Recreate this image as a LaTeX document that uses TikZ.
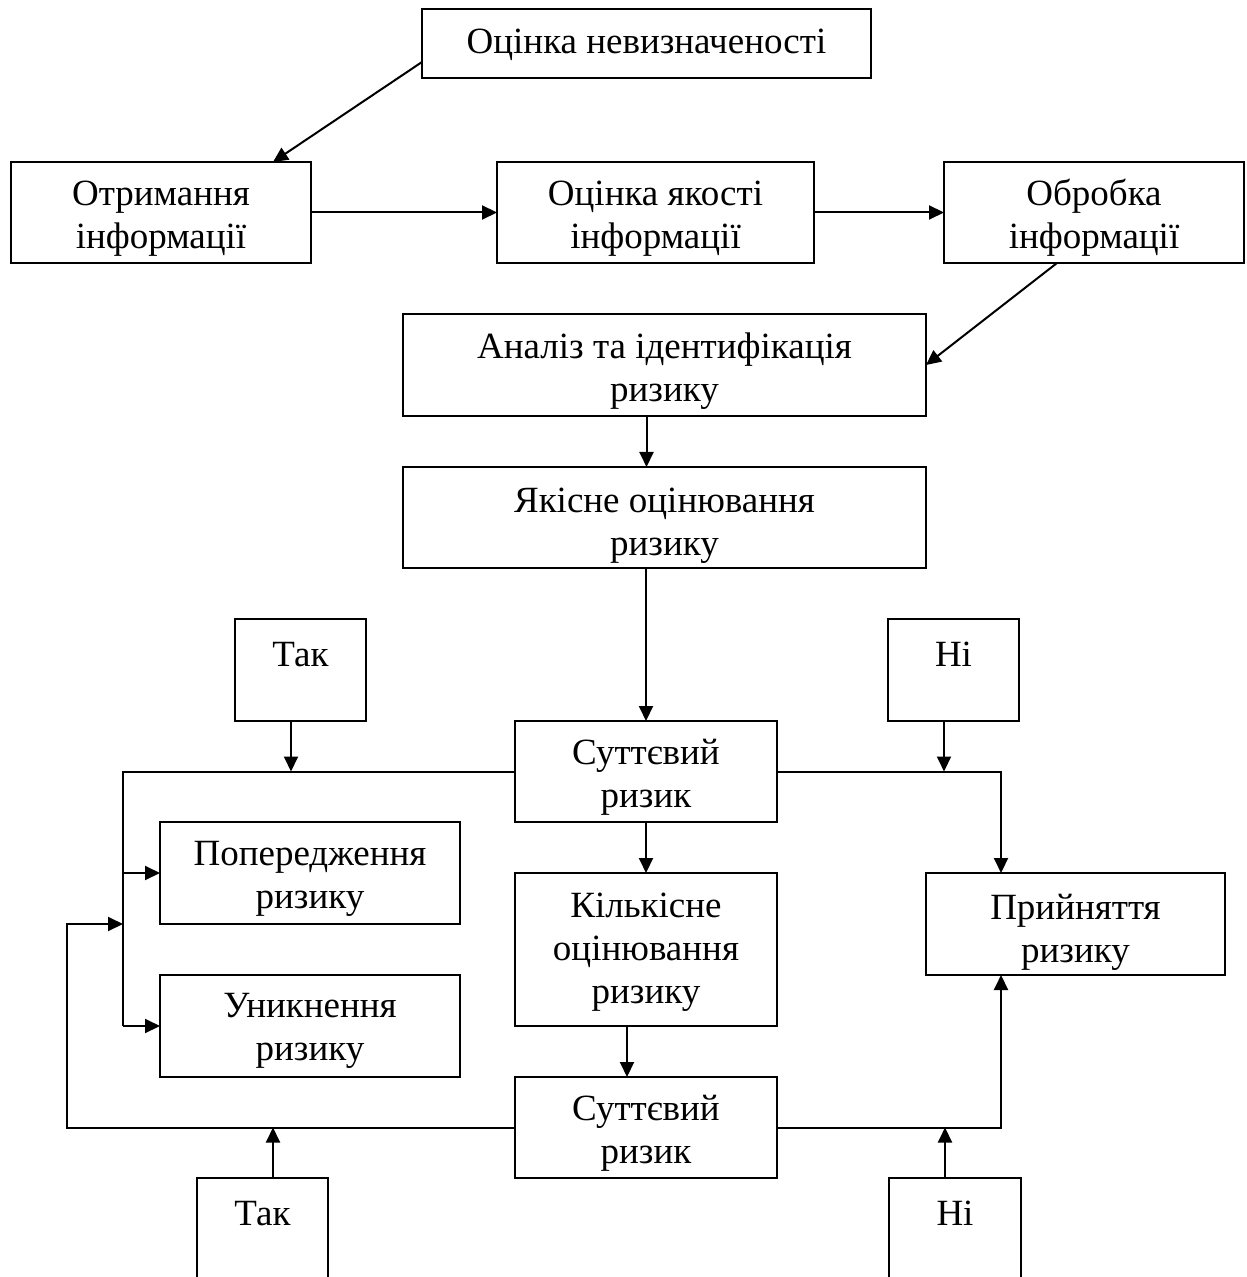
\documentclass[tikz,border=0pt]{standalone}
\usepackage{fontspec}
\setmainfont{Liberation Serif}
\usetikzlibrary{arrows.meta,calc}
\begin{document}
\begin{tikzpicture}[x=0.5pt,y=-0.5pt,
  box/.style={draw=black,line width=1pt,rectangle,inner sep=0pt,outer sep=0pt},
  txt/.style={inner sep=0pt,outer sep=0pt,align=center,anchor=base,font=\fontsize{18.5}{21.5}\selectfont},
  conn/.style={line width=1pt},
  arr/.style={line width=1pt,-{Triangle[length=7.5pt,width=7pt]}}]
\useasboundingbox (0,0) rectangle (1246,1277);
\clip (0,0) rectangle (1246,1277);
% boxes
\node[box,minimum width=224.5pt,minimum height=34.5pt] (unc) at (646.5,43.5) {};
\node[box,minimum width=150pt,minimum height=50.5pt] (get) at (161,212.5) {};
\node[box,minimum width=158.5pt,minimum height=50.5pt] (qual) at (655.5,212.5) {};
\node[box,minimum width=150pt,minimum height=50.5pt] (proc) at (1094,212.5) {};
\node[box,minimum width=261.5pt,minimum height=51pt] (anal) at (664.5,365) {};
\node[box,minimum width=261.5pt,minimum height=50.5pt] (qualr) at (664.5,517.5) {};
\node[box,minimum width=65.5pt,minimum height=51pt] (tak1) at (300.5,670) {};
\node[box,minimum width=65.5pt,minimum height=51pt] (ni1) at (953.5,670) {};
\node[box,minimum width=131pt,minimum height=50.5pt] (sut1) at (646,771.5) {};
\node[box,minimum width=150pt,minimum height=51pt] (prev) at (310,873) {};
\node[box,minimum width=131pt,minimum height=76.5pt] (kil) at (646,949.5) {};
\node[box,minimum width=149.5pt,minimum height=51pt] (accept) at (1075.5,924) {};
\node[box,minimum width=150pt,minimum height=51pt] (avoid) at (310,1026) {};
\node[box,minimum width=131pt,minimum height=50.5pt] (sut2) at (646,1127.5) {};
\node[box,minimum width=65.5pt,minimum height=81pt] (tak2) at (262.5,1259) {};
\node[box,minimum width=66pt,minimum height=81pt] (ni2) at (955,1259) {};
% texts (anchor base = baseline of the last line)
\node[txt] (tunc) at (646.5,54) {Оцінка невизначеності};
\node[txt] (tget) at (161,249) {Отримання\\інформації};
\node[txt] (tqual) at (655.5,249) {Оцінка якості\\інформації};
\node[txt] (tproc) at (1094,249) {Обробка\\інформації};
\node[txt] (tanal) at (664.5,402) {Аналіз та ідентифікація\\ризику};
\node[txt] (tqualr) at (664.5,555) {Якісне оцінювання\\ризику};
\node[txt] (ttak1) at (300.5,666) {Так};
\node[txt] (tni1) at (953.5,666) {Ні};
\node[txt] (tsut1) at (646,807) {Суттєвий\\ризик};
\node[txt] (tprev) at (310,908) {Попередження\\ризику};
\node[txt] (tkil) at (646,1003) {Кількісне\\оцінювання\\ризику};
\node[txt] (taccept) at (1075.5,962) {Прийняття\\ризику};
\node[txt] (tavoid) at (310,1060) {Уникнення\\ризику};
\node[txt] (tsut2) at (646,1163) {Суттєвий\\ризик};
\node[txt] (ttak2) at (262.5,1225) {Так};
\node[txt] (tni2) at (955,1225) {Ні};
% junction coordinates
\coordinate (L) at (123,771.5);
\coordinate (R) at (1001,771.5);
\coordinate (F) at (67,1127.5);
% connectors
\draw[arr] ($(unc.south west)+(0,-16)$) -- ($(get.north)+(112,0)$);
\draw[arr] (get) -- (qual);
\draw[arr] (qual) -- (proc);
\draw[arr] ($(proc.south)+(-37,0)$) -- (anal.east);
\draw[arr] ([xshift=-9pt]anal.south) -- ([xshift=-9pt]qualr.north);
\draw[arr] (sut1.north |- qualr.south) -- (sut1.north);
\draw[arr] ([xshift=-4.75pt]tak1.south) -- ([xshift=-4.75pt]tak1.south |- sut1.west);
\draw[arr] ([xshift=-4.75pt]ni1.south) -- ([xshift=-4.75pt]ni1.south |- sut1.east);
\draw[conn] (sut1.west) -- (L) -- (L |- avoid.west);
\draw[arr] (L |- prev.west) -- (prev.west);
\draw[arr] (L |- avoid.west) -- (avoid.west);
\draw[arr] (sut1.east) -- (R) -- (R |- accept.north);
\draw[arr] (sut1) -- (kil);
\draw[arr] ([xshift=-9.5pt]kil.south) -- ([xshift=-9.5pt]sut2.north);
\draw[arr] (sut2.west) -- (F) -- (F |- prev.south) -- (L |- prev.south);
\draw[arr] (sut2.east) -- (R |- sut2.east) -- (R |- accept.south);
\draw[arr] ([xshift=5.25pt]tak2.north) -- ([xshift=5.25pt]tak2.north |- sut2.west);
\draw[arr] ([xshift=-5pt]ni2.north) -- ([xshift=-5pt]ni2.north |- sut2.east);
\end{tikzpicture}
\end{document}
